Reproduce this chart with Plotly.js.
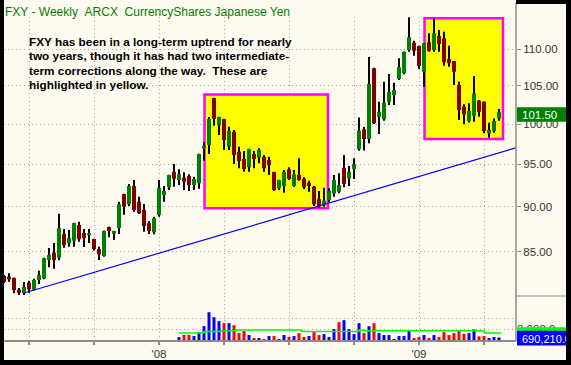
<!DOCTYPE html>
<html><head><meta charset="utf-8">
<script src="https://cdn.plot.ly/plotly-3.0.1.min.js"></script>
<style>html,body{margin:0;padding:0;background:#fffaf0;}#chart{width:571px;height:365px;}</style>
</head><body><div id="chart"></div>
<script>
// ---- data: FXY weekly, first bar week ending 2007-06-01 ----
const firstWeek = '2007-06-01';
const open  = [82.45,82.37,82.24,81.00,80.66,81.75,81.00,82.03,82.21,84.14,
               84.93,84.39,86.97,85.95,86.23,87.97,87.08,86.83,86.42,85.29,
               84.57,87.74,87.00,87.63,91.50,90.31,92.43,90.61,89.66,88.16,
               87.15,89.09,91.38,92.28,94.09,93.14,93.41,93.61,92.55,92.75,
               96.92,97.37,103.36,99.84,100.64,97.16,99.04,96.55,95.66,94.65,
               96.26,95.82,95.94,95.54,94.09,92.16,92.43,94.41,92.43,93.73,
               93.29,92.82,92.35,90.88,90.23,90.80,91.58,91.76,94.61,93.34,
               94.45,96.85,99.34,98.12,107.33,100.93,100.60,102.88,103.75,105.89,
               106.66,109.86,110.88,110.42,106.87,110.94,109.86,111.83,111.51,108.61,
               108.33,105.08,102.23,100.38,101.06,103.01,102.88,98.83,99.12,100.75];
const high  = [82.55,82.73,82.30,81.20,81.82,81.96,82.17,83.00,84.39,85.44,
               85.98,89.24,87.52,87.41,88.22,88.34,87.52,87.52,86.45,85.58,
               87.35,87.78,87.32,90.61,91.52,92.67,93.14,91.18,90.34,88.42,
               88.90,93.14,92.43,93.75,95.05,94.41,94.05,93.81,93.53,96.30,
               97.74,100.90,103.40,100.92,100.66,99.67,99.25,97.16,96.64,96.90,
               96.64,96.97,96.14,95.94,94.12,93.16,94.33,94.65,94.33,95.75,
               93.46,93.06,92.43,91.84,92.23,92.16,93.73,93.93,96.14,94.81,
               95.75,100.85,99.67,108.89,107.40,102.88,105.52,106.57,105.39,108.71,
               109.65,114.52,111.16,110.45,110.84,112.21,114.37,112.69,112.45,110.46,
               108.35,105.52,102.54,102.67,106.30,103.10,102.90,100.17,100.72,101.93];
const low   = [81.72,81.85,80.66,80.48,80.48,80.72,80.93,81.61,82.10,83.37,
               83.22,84.11,85.47,85.58,85.58,86.12,85.54,85.98,85.15,84.14,
               84.50,86.61,86.31,86.97,89.12,90.12,89.47,89.20,87.22,86.97,
               86.94,88.90,90.61,91.96,92.35,92.55,91.96,91.84,91.96,92.11,
               95.45,96.26,99.79,98.62,96.76,96.76,95.05,94.53,94.13,94.13,
               94.53,95.13,94.13,93.73,91.88,91.96,91.64,93.14,92.35,93.06,
               92.08,91.76,90.12,89.92,90.04,90.61,91.18,91.58,92.28,92.43,
               93.26,96.67,96.68,97.58,100.00,98.75,100.42,102.45,102.45,105.75,
               106.53,109.63,109.07,107.24,104.86,109.63,109.63,109.63,107.70,107.56,
               105.08,100.51,99.96,100.21,100.30,100.93,98.83,98.28,98.90,100.42];
const close = [81.82,82.10,81.00,80.72,81.31,81.07,82.03,82.55,84.32,84.68,
               84.14,87.63,85.76,86.50,88.19,86.39,86.50,87.05,85.33,84.76,
               87.30,87.30,87.30,90.31,90.04,92.43,89.66,89.28,87.86,87.30,
               88.72,92.23,91.84,93.73,93.29,93.81,92.94,92.55,93.26,96.26,
               97.25,100.64,100.66,100.89,97.99,99.12,96.14,95.42,94.45,96.88,
               95.66,96.76,94.53,94.93,91.96,93.14,94.13,93.26,93.81,93.14,
               92.28,92.43,90.31,90.04,90.72,91.84,93.14,92.55,92.67,94.13,
               95.02,99.16,98.12,105.21,100.09,101.58,102.75,104.16,104.42,107.47,
               109.63,111.64,109.76,107.65,110.80,109.76,112.21,110.70,108.16,108.02,
               106.87,101.80,101.24,101.67,103.97,101.58,99.12,99.25,100.38,101.50];
// weekly volume (shares); no volume shown before mid-Jan 2008
const volume = [null,null,null,null,null,null,null,null,null,null,
                null,null,null,null,null,null,null,null,null,null,
                null,null,null,null,null,null,null,null,null,null,
                null,null,null,null,null,810000,1430000,1430000,1080000,2160000,
                3780000,7570000,6220000,5140000,4590000,4590000,4050000,1890000,2430000,1350000,
                540000,540000,270000,1080000,1080000,270000,1350000,810000,1080000,1890000,
                810000,1080000,2430000,1350000,1620000,810000,2970000,4860000,5400000,2970000,
                1620000,4590000,1890000,3780000,4590000,1890000,1350000,1350000,270000,1080000,
                1080000,2430000,540000,810000,1350000,540000,1350000,810000,2160000,1350000,
                1890000,2430000,1700000,1890000,2890000,1000000,1080000,540000,810000,690210];
// average-volume step line
const avgVolDates = ['2008-02-01','2008-03-07','2008-03-31 12:00','2008-04-21 12:00','2008-07-21 12:00','2008-10-10','2008-10-17','2009-04-03','2009-04-27 12:00'];
const avgVol      = [1900000,2300000,2500000,2700000,2350000,2700000,2500000,1900000,1900000];
// trend line (start / end)
const trendDates  = ['2007-06-28','2009-05-29'];
const trendPrices = [80.66,97.32];
// highlighted corrections
const corrStart = ['2008-03-07 17:00','2009-01-09 17:00'];
const corrEnd   = ['2008-08-27 14:00','2009-04-29 14:00'];
const corrHigh  = [103.82,114.37];
const corrLow   = [89.86,98.12];
// axis ticks
const priceTicks = [85,90,95,100,105,110];
const quarterTicks = ['2007-07-06','2007-10-05','2008-01-04','2008-04-04','2008-07-04','2008-10-03','2009-01-02','2009-04-03'];
const quarterLabels = ['','',"'08",'','','',"'09",''];
const lastPriceLabel = '101.50';
const lastVolumeLabel = '690,210.0';
const volTickLabel = '3,000.0';
const titleText = 'FXY - Weekly\u00a0\u00a0ARCX\u00a0\u00a0CurrencyShares Japanese Yen';
const noteLines = ['FXY has been in a long-term uptrend for nearly',
                   'two years, though it has had two intermediate-',
                   'term corrections along the way.\u00a0 These are',
                   'highlighted in yellow.'];

// ---- build ----
const DAY = 864e5;
const t0 = Date.parse(firstWeek + 'T00:00:00Z');
const dates = close.map((_, i) => new Date(t0 + i * 7 * DAY).toISOString().slice(0, 10));
const volColors = close.map((c, i) => (i > 0 && c < close[i - 1]) ? '#FF0000' : '#0000FF');

const W = 571, H = 365, PL = 4, PR = 516, PT = 17, PB = 340;
const fx = p => (p - PL) / (PR - PL);
const fy = p => (PB - p) / (PB - PT);
const FONT = 'Liberation Sans, Arial, sans-serif';
const volSplit = (PB - 296) / (PB - PT);

const traces = [
  { type: 'bar', x: dates, y: high.map((h, i) => h - low[i]), base: low, xaxis: 'x', yaxis: 'y',
    width: 0.4 * 7 * DAY, marker: { color: '#000000', line: { width: 0 } }, hoverinfo: 'skip' },
  { type: 'candlestick', x: dates, open: open, high: high, low: low, close: close, xaxis: 'x', yaxis: 'y',
    increasing: { fillcolor: '#008000', line: { color: '#008000', width: 0 } },
    decreasing: { fillcolor: '#800000', line: { color: '#800000', width: 0 } },
    hoverinfo: 'skip' },
  { type: 'scatter', mode: 'lines', x: trendDates, y: trendPrices, xaxis: 'x', yaxis: 'y',
    line: { color: '#0000FF', width: 1.2 }, hoverinfo: 'skip' },
  { type: 'bar', x: dates, y: volume, xaxis: 'x', yaxis: 'y2', width: 0.6 * 7 * DAY,
    marker: { color: volColors, line: { width: 0 } }, hoverinfo: 'skip' },
  { type: 'scatter', mode: 'lines', x: avgVolDates, y: avgVol, xaxis: 'x', yaxis: 'y2',
    line: { color: '#00FF00', width: 1.5, shape: 'hv' }, hoverinfo: 'skip' }
];

const gridStyle = { showgrid: true, gridcolor: '#A8A8A8', gridwidth: 1, griddash: '1px,3px' };
const endDate = new Date(t0 + 102.4 * 7 * DAY).toISOString().slice(0, 19).replace('T', ' ');

const shapes = [];
for (let i = 0; i < corrStart.length; i++) {
  shapes.push({ type: 'rect', xref: 'x', yref: 'y', x0: corrStart[i], x1: corrEnd[i], y0: corrLow[i], y1: corrHigh[i],
    fillcolor: '#FFFF00', line: { color: '#FF00FF', width: 2.5 }, layer: 'between' });
}
const paperRect = (x0, x1, y0, y1, color) => ({ type: 'rect', xref: 'paper', yref: 'paper',
  x0: fx(x0), x1: fx(x1), y0: fy(y1), y1: fy(y0), fillcolor: color, line: { width: 0 }, layer: 'above' });
shapes.push(paperRect(517, 571, 107.3, 121.7, '#008000'));
shapes.push(paperRect(517, 571, 327.3, 330.7, '#00FF00'));
shapes.push(paperRect(517, 571, 330.7, 345.5, '#0000FF'));
shapes.push({ type: 'line', xref: 'paper', yref: 'paper', x0: 1, x1: 1, y0: fy(341), y1: fy(3),
  line: { color: '#8C8C8C', width: 1.5 }, layer: 'above' });
shapes.push({ type: 'line', xref: 'paper', yref: 'paper', x0: 1, x1: fx(571), y0: fy(296), y1: fy(296),
  line: { color: '#8C8C8C', width: 1.2 }, layer: 'above' });
shapes.push(paperRect(0, 4, 0, 365, '#000000'));
shapes.push(paperRect(0, 571, 360, 365, '#000000'));
shapes.push(paperRect(516, 571, 0, 4, '#000000'));

const annotations = [
  { xref: 'paper', yref: 'paper', x: fx(3), y: fy(12), xanchor: 'left', yanchor: 'middle', showarrow: false,
    text: titleText, font: { family: FONT, size: 12, color: '#008000' } }
];
const lineY = [41.7, 56.2, 70.7, 85.2];
noteLines.forEach((t, i) => annotations.push({ xref: 'paper', yref: 'paper', x: fx(27), y: fy(lineY[i]),
  xanchor: 'left', yanchor: 'middle', showarrow: false, text: '<b>' + t + '</b>',
  font: { family: FONT, size: 11.8, color: '#000000' } }));
annotations.push({ xref: 'paper', yref: 'paper', x: fx(520), y: fy(114.6), xanchor: 'left', yanchor: 'middle',
  showarrow: false, text: lastPriceLabel, font: { family: FONT, size: 11.5, color: '#FFFFFF' } });
annotations.push({ xref: 'paper', yref: 'paper', x: fx(520), y: fy(338.5), xanchor: 'left', yanchor: 'middle',
  showarrow: false, text: lastVolumeLabel, font: { family: FONT, size: 11, color: '#FFFFFF' } });
annotations.push({ xref: 'paper', yref: 'paper', x: fx(566), y: fy(182.5), xanchor: 'left', yanchor: 'middle',
  showarrow: false, text: ' ', bgcolor: '#000000', width: 10, height: 370, borderpad: 0, borderwidth: 0 });

const layout = {
  width: W, height: H,
  margin: { l: PL, r: W - PR, t: PT, b: H - PB, pad: 0 },
  paper_bgcolor: '#FFFAF0', plot_bgcolor: '#FFFAF0',
  showlegend: false, hovermode: false, dragmode: false,
  boxgap: 0.2, boxgroupgap: 0, barmode: 'overlay',
  xaxis: Object.assign({ type: 'date', anchor: 'y2', range: [firstWeek, endDate],
    tickmode: 'array', tickvals: quarterTicks, ticktext: quarterLabels,
    ticks: 'outside', ticklen: 3, tickwidth: 1.5, tickcolor: '#8C8C8C',
    showline: true, linecolor: '#8C8C8C', linewidth: 1.5, zeroline: false,
    tickfont: { family: FONT, size: 11.5, color: '#333333' },
    rangeslider: { visible: false }, fixedrange: true }, gridStyle),
  yaxis: Object.assign({ type: 'log', domain: [volSplit, 1], range: [1.90514, 2.05905], side: 'right', anchor: 'x',
    tickmode: 'array', tickvals: priceTicks, ticktext: priceTicks.map(v => v.toFixed(2)),
    ticks: 'outside', ticklen: 4, tickwidth: 1, tickcolor: '#8C8C8C',
    showline: false, zeroline: false,
    tickfont: { family: FONT, size: 11.5, color: '#333333' }, fixedrange: true }, gridStyle),
  yaxis2: Object.assign({ domain: [0, volSplit], range: [0, 12000000], side: 'right', anchor: 'x',
    tickmode: 'array', tickvals: [3000000, 6000000], ticktext: [volTickLabel, ''],
    ticks: '', showline: false, zeroline: false,
    tickfont: { family: FONT, size: 11.5, color: '#333333' }, fixedrange: true }, gridStyle),
  shapes: shapes,
  annotations: annotations
};

Plotly.newPlot('chart', traces, layout, { staticPlot: true, displayModeBar: false });
</script>
</body></html>
